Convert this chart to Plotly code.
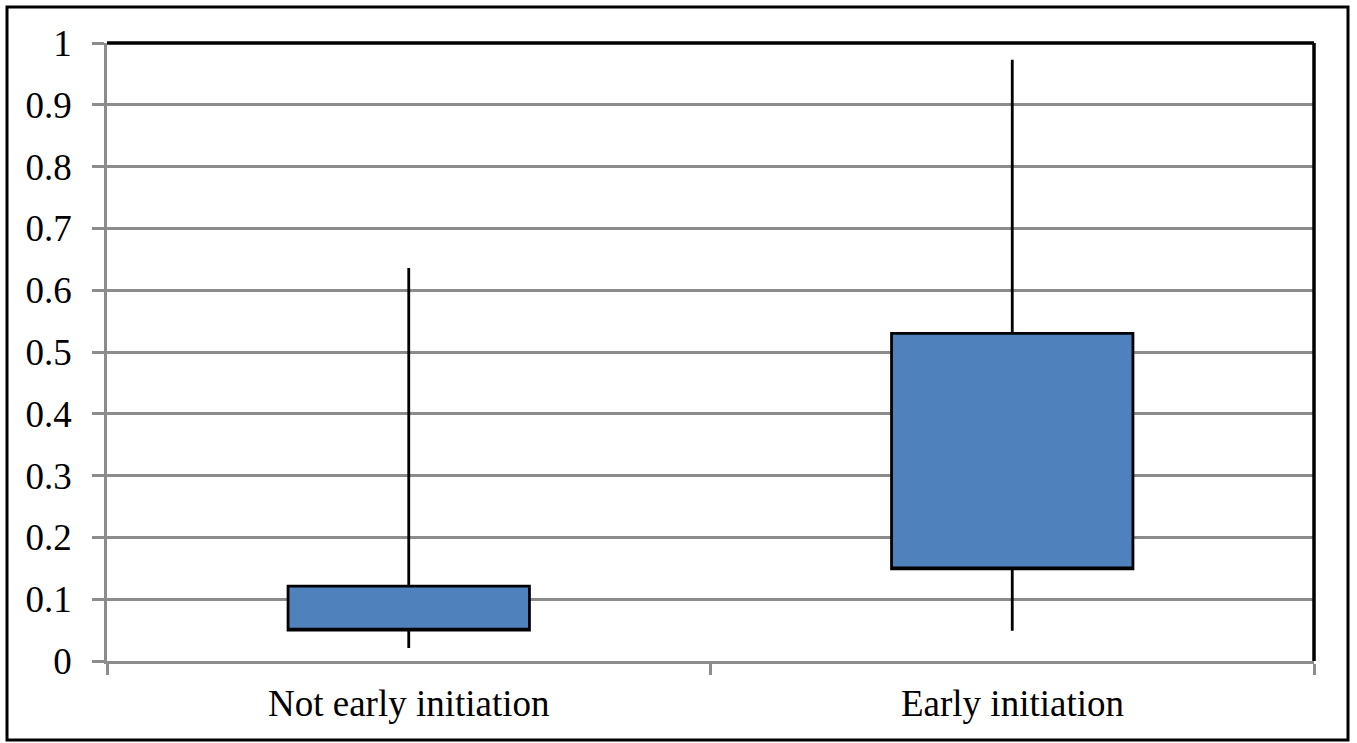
import plotly.graph_objects as go

categories = ["Not early initiation", "Early initiation"]
lower_whisker = [0.021, 0.049]
q1_values = [0.050, 0.149]
q3_values = [0.121, 0.530]
upper_whisker = [0.636, 0.973]
y_ticks = [0, 0.1, 0.2, 0.3, 0.4, 0.5, 0.6, 0.7, 0.8, 0.9, 1]
y_tick_labels = ["0", "0.1", "0.2", "0.3", "0.4", "0.5", "0.6", "0.7", "0.8", "0.9", "1"]

W, H = 1357, 743
ml, mr, mt, mb = 107, 43, 43, 82
pw, ph = W - ml - mr, H - mt - mb
FONT = "Liberation Serif, Times New Roman, serif"

fig = go.Figure()
fig.add_trace(go.Box(
    x=categories,
    q1=q1_values, median=q1_values, q3=q3_values,
    lowerfence=lower_whisker, upperfence=upper_whisker,
    fillcolor="#4F81BD",
    line=dict(color="black", width=2.8),
    whiskerwidth=0,
    width=0.4,
    boxpoints=False,
    hoverinfo="skip",
    showlegend=False,
))

grid = "#8c8c8c"
fig.update_layout(
    width=W, height=H,
    margin=dict(l=ml, r=mr, t=mt, b=mb),
    paper_bgcolor="white", plot_bgcolor="white",
    font=dict(family=FONT, size=37, color="black"),
    xaxis=dict(
        type="category", range=[-0.5, 1.5],
        showgrid=False, showline=True, linecolor=grid, linewidth=2.5,
        ticks="outside", ticklen=11, tickcolor=grid, tickwidth=2.5,
        tickmode="array", tickvals=[-0.5, 0.5, 1.5], ticktext=["", "", ""],
        zeroline=False,
    ),
    yaxis=dict(
        range=[0, 1], tickvals=y_ticks, ticktext=y_tick_labels,
        showgrid=True, gridcolor=grid, gridwidth=2.5,
        showline=True, linecolor=grid, linewidth=2.5,
        ticks="outside", ticklen=12, tickcolor=grid, tickwidth=2.5,
        zeroline=False, ticklabelstandoff=13,
    ),
)

for c in categories:
    fig.add_annotation(x=c, y=0, xref="x", yref="y", text=c, showarrow=False,
                       yshift=-42, font=dict(size=37, family=FONT))

fig.add_shape(type="line", xref="paper", yref="paper", x0=0, x1=1, y0=1, y1=1,
              line=dict(color="black", width=3.5))
fig.add_shape(type="line", xref="paper", yref="paper", x0=1, x1=1, y0=0, y1=1,
              line=dict(color="black", width=3.5))

fig.add_shape(type="rect", xref="paper", yref="paper",
              x0=(7 - ml) / pw, x1=(1348 - ml) / pw,
              y0=(H - mb - 740) / ph, y1=(H - mb - 7) / ph,
              line=dict(color="black", width=3), fillcolor="rgba(0,0,0,0)", layer="above")

fig.write_html("out.html", config={"displayModeBar": False},
               post_script="document.body.style.margin='0';document.body.style.overflow='hidden';")
